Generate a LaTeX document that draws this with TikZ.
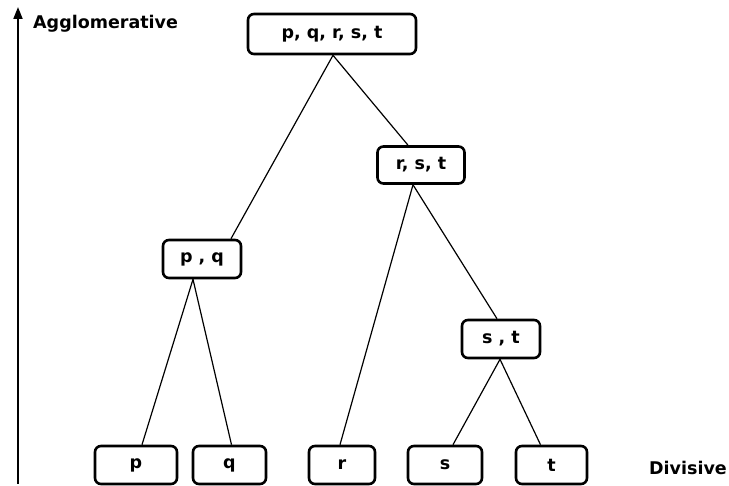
\documentclass[tikz,border=0pt]{standalone}
\usepackage{fontspec}
\setmainfont{DejaVu Sans}
\usetikzlibrary{arrows.meta}
\begin{document}
\begin{tikzpicture}[x=1pt,y=-1pt,
  cluster/.style={draw, line width=2.6pt, rounded corners=6pt, fill=white,
    font=\bfseries\fontsize{17.5}{20}\selectfont, inner sep=0pt, anchor=center},
  link/.style={line width=1.2pt},
  lbl/.style={font=\bfseries\fontsize{17.5}{20}\selectfont, inner sep=0pt}]
\useasboundingbox (0,0) rectangle (729,486);
% axis
\coordinate (axbot) at (18,484);
\coordinate (axtop) at (18,7);
\draw[line width=1.8pt, -{Triangle[length=12pt,width=9pt]}] (axbot) -- (axtop);
\node[lbl, anchor=west] (agg) at (33,24) {Agglomerative};
\node[lbl, anchor=west] (div) at (649,468) {Divisive};
% clusters
\node[cluster, minimum width=168pt, minimum height=40pt] (pqrst) at (332,34) {p, q, r, s, t};
\node[cluster, minimum width=87pt, minimum height=37pt] (rst) at (421,165) {r, s, t};
\node[cluster, minimum width=78pt, minimum height=38pt] (pq) at (202,259) {p , q};
\node[cluster, minimum width=78pt, minimum height=38pt] (st) at (501,339) {s , t};
% leaves
\node[cluster, minimum width=82pt, minimum height=38pt] (p) at (136,465) {p};
\node[cluster, minimum width=73pt, minimum height=38pt] (q) at (229.5,465) {q};
\node[cluster, minimum width=66pt, minimum height=38pt] (r) at (342,465) {r};
\node[cluster, minimum width=74pt, minimum height=38pt] (s) at (445,465) {s};
\node[cluster, minimum width=71pt, minimum height=38pt] (t) at (551.5,465) {t};
% connectors
\draw[link] ([xshift=1pt]pqrst.south) -- ([xshift=29pt]pq.north);
\draw[link] ([xshift=1pt]pqrst.south) -- ([xshift=-13pt]rst.north);
\draw[link] ([xshift=-8pt]rst.south) -- ([xshift=-2pt]r.north);
\draw[link] ([xshift=-8pt]rst.south) -- ([xshift=-4pt]st.north);
\draw[link] ([xshift=-9pt]pq.south) -- ([xshift=6pt]p.north);
\draw[link] ([xshift=-9pt]pq.south) -- ([xshift=2pt]q.north);
\draw[link] ([xshift=-1pt]st.south) -- ([xshift=8pt]s.north);
\draw[link] ([xshift=-1pt]st.south) -- ([xshift=-11pt]t.north);
\end{tikzpicture}
\end{document}
